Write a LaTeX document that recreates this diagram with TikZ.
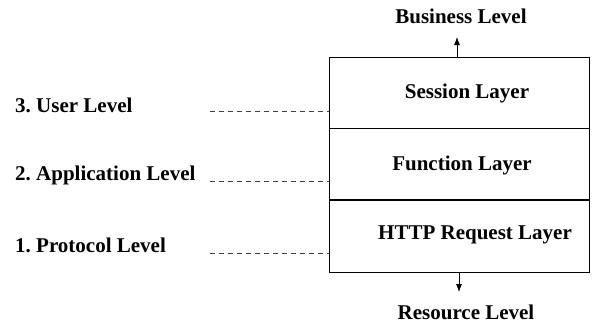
\documentclass[tikz,border=0pt]{standalone}
\usepackage{fontspec}
\setmainfont{Liberation Serif}
\usetikzlibrary{arrows.meta, positioning}

\tikzset{
  lvl/.style={font=\fontsize{21}{24}\selectfont\bfseries\frenchspacing, inner sep=0pt},
  layerbox/.style={draw, rectangle, line width=0.8pt, minimum width=260pt, minimum height=71pt, inner sep=0pt},
  levelline/.style={draw=black!75, line width=0.8pt, dash pattern=on 5pt off 4pt},
  flow/.style={line width=0.8pt, -{Latex[length=8pt,width=6pt]}}
}

\begin{document}
\begin{tikzpicture}[x=1pt, y=-1pt]
\useasboundingbox (0,0) rectangle (592,325);

% the three layers
\node[layerbox] at (459,92.5) (sess) {};
\node[layerbox, below=0pt of sess] (func) {};
\node[layerbox, below=0pt of func, minimum height=72pt] (http) {};
\node[lvl] at (467,93) (sesstxt) {Session Layer};
\node[lvl] at (462,165) (functxt) {Function Layer};
\node[lvl] at (475,235) (httptxt) {HTTP Request Layer};

% levels
\node[lvl, anchor=west] at (15,105) (user) {3. User Level};
\node[lvl, anchor=west] at (15,175) (app) {2. Application Level};
\node[lvl, anchor=west] at (15,245) (proto) {1. Protocol Level};
\coordinate (u0) at (210,111);
\coordinate (a0) at (210,181);
\coordinate (p0) at (210,253);
\draw[levelline] (u0) -- (u0 -| sess.west);
\draw[levelline] (a0) -- (a0 -| func.west);
\draw[levelline] (p0) -- (p0 -| http.west);

\node[lvl] at (461,16) (biz) {Business Level};
\node[lvl] at (466,312) (res) {Resource Level};
\coordinate (bizin) at (457,37);
\coordinate (resout) at (459,292);
\draw[flow] (sess.north -| bizin) -- (bizin);
\draw[flow] (http.south -| resout) -- (resout);

\end{tikzpicture}
\end{document}
